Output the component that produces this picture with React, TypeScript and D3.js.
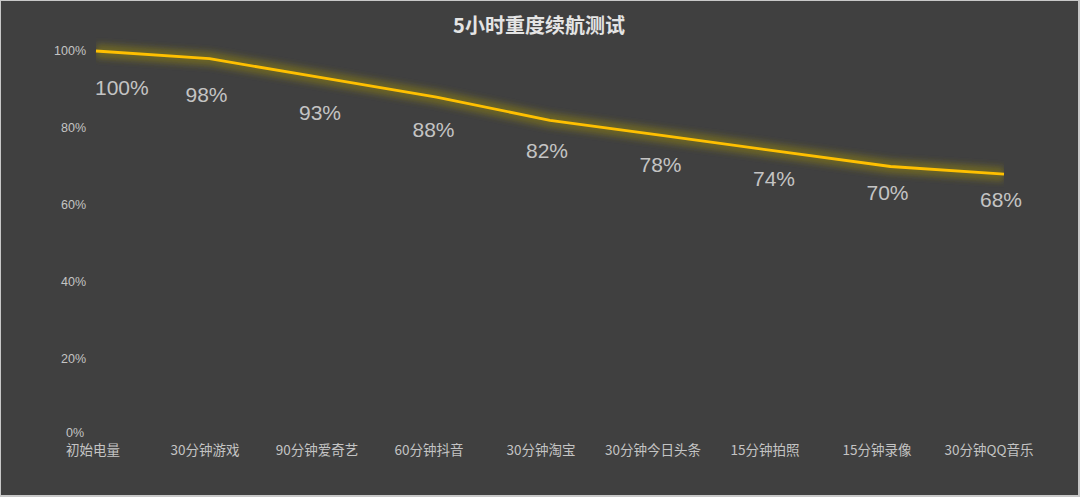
import React from "react";
import * as d3 from "d3";

const categories = ["初始电量", "30分钟游戏", "90分钟爱奇艺", "60分钟抖音", "30分钟淘宝", "30分钟今日头条", "15分钟拍照", "15分钟录像", "30分钟QQ音乐"];
const values = [100, 98, 93, 88, 82, 78, 74, 70, 68];
const yTicks = [0, 20, 40, 60, 80, 100];
const title = "5小时重度续航测试";

const W = 1080;
const H = 497;
const CJK = "'Noto Sans CJK SC', 'Noto Sans', sans-serif";
const LATIN = "'Liberation Sans', Arial, sans-serif";

export default function App() {
  const x = d3.scalePoint<string>().domain(categories).range([96, 1004]);
  const xLab = d3.scalePoint<string>().domain(categories).range([93, 989]);
  const y = d3.scaleLinear().domain([0, 100]).range([436, 51]);
  const yLab = d3.scaleLinear().domain([0, 100]).range([438, 88]);
  const line = d3
    .line<number>()
    .x((_, i) => x(categories[i]) as number)
    .y((d) => y(d))
    .curve(d3.curveLinear);
  const path = line(values) || "";

  return (
    <svg
      width={W}
      height={H}
      style={{ position: "absolute", left: 0, top: 0, display: "block" }}
      fontFamily={CJK}
    >
      <defs>
        <filter id="glow" x="0" y="-1" width="1" height="3" filterUnits="objectBoundingBox">
          <feGaussianBlur stdDeviation="3" />
        </filter>
      </defs>
      <rect x={0} y={0} width={W} height={H} fill="#c8c8c8" />
      <rect x={1} y={1} width={W - 3} height={H - 3} fill="#404040" />
      <text x={539} y={33} textAnchor="middle" fontSize={20} fontWeight="bold" fill="#e4e4e4">
        {title}
      </text>
      {yTicks.map((t) => (
        <text
          key={t}
          x={t === 0 ? 84 : 86}
          y={y(t)}
          dy={t === 0 ? "0.1em" : "0.35em"}
          textAnchor="end"
          fontSize={12.5}
          fill="#c4c4c4"
          fontFamily={LATIN}
        >
          {t}%
        </text>
      ))}
      {categories.map((c) => (
        <text key={c} x={xLab(c)} y={455} textAnchor="middle" fontSize={13.5} fill="#c4c4c4">
          {c}
        </text>
      ))}
      <path d={path} fill="none" stroke="#6f6724" strokeOpacity={0.9} strokeWidth={14} strokeLinejoin="round" filter="url(#glow)" />
      <path d={path} fill="none" stroke="#ffc000" strokeWidth={2.8} strokeLinejoin="round" />
      {values.map((v, i) => (
        <text
          key={i}
          x={(x(categories[i]) as number) - (i === 0 ? 1 : 3)}
          y={yLab(v)}
          dy="0.35em"
          textAnchor={i === 0 ? "start" : "middle"}
          fontSize={21}
          fill="#c4c4c4"
          fontFamily={LATIN}
        >
          {v}%
        </text>
      ))}
    </svg>
  );
}
